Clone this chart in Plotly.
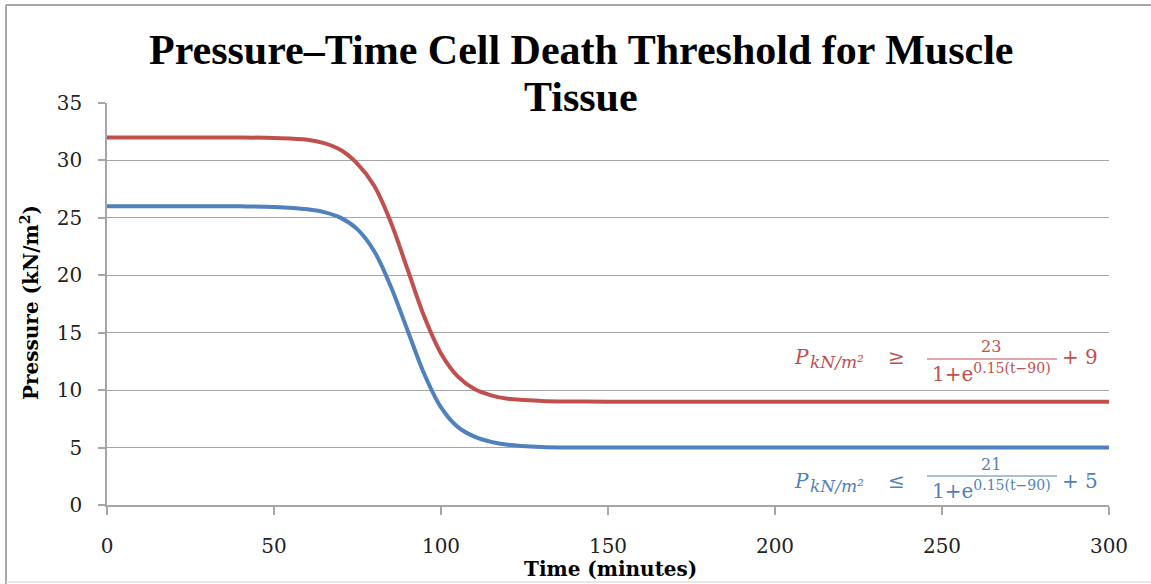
import plotly.graph_objects as go

# Time (minutes) sampled along the curves
time_min = [0, 20, 40, 50, 60, 65, 70, 75, 80, 85, 90, 95, 100, 105, 110,
            115, 120, 130, 140, 150, 200, 250, 300]
# Upper threshold (red)
upper_kpa = [32.0, 32.0, 32.0, 31.95, 31.8, 31.5, 30.9, 29.7, 27.8, 24.6, 20.5,
             16.4, 13.2, 11.2, 10.1, 9.55, 9.25, 9.06, 9.01, 9.0, 9.0, 9.0, 9.0]
# Lower threshold (blue)
lower_kpa = [26.0, 26.0, 26.0, 25.95, 25.75, 25.5, 25.0, 24.0, 22.1, 19.0, 15.2,
             11.4, 8.5, 6.8, 5.95, 5.5, 5.25, 5.06, 5.01, 5.0, 5.0, 5.0, 5.0]

x_ticks = [0, 50, 100, 150, 200, 250, 300]
y_ticks = [0, 5, 10, 15, 20, 25, 30, 35]

RED = "#C0504D"
BLUE = "#4F81BD"
GRID = "#A6A6A6"
SERIF = "Liberation Serif, DejaVu Serif, serif"
DSERIF = "DejaVu Serif, Liberation Serif, serif"

W, H = 1151, 584
L, R, T, B = 107, 42, 103, 79
PW, PH = W - L - R, H - T - B


def px(x):
    return (x - L) / PW


def py(y):
    return (H - B - y) / PH


fig = go.Figure()
fig.add_trace(go.Scatter(x=time_min, y=upper_kpa, mode="lines", line_shape="spline",
                         line=dict(color=RED, width=4), showlegend=False))
fig.add_trace(go.Scatter(x=time_min, y=lower_kpa, mode="lines", line_shape="spline",
                         line=dict(color=BLUE, width=4), showlegend=False))

fig.update_layout(
    width=W, height=H,
    margin=dict(l=L, r=R, t=T, b=B),
    paper_bgcolor="white", plot_bgcolor="white",
    xaxis=dict(range=[0, 300], tickvals=x_ticks, showgrid=False, zeroline=False,
               showline=True, linecolor=GRID, linewidth=1.5,
               ticks="outside", ticklen=8, tickcolor=GRID, tickwidth=1.5,
               ticklabelstandoff=14,
               tickfont=dict(family=DSERIF, size=20, color="#222")),
    yaxis=dict(range=[0, 35], tickvals=y_ticks, showgrid=True, gridcolor=GRID,
               gridwidth=1.3, zeroline=False,
               showline=True, linecolor=GRID, linewidth=1.5,
               ticks="outside", ticklen=7, tickcolor=GRID, tickwidth=1.5,
               ticklabelstandoff=12,
               tickfont=dict(family=DSERIF, size=20, color="#222")),
)

# title (two lines)
title_font = dict(family=SERIF, size=42, color="black", weight="bold")
fig.add_annotation(text="Pressure–Time Cell Death Threshold for Muscle",
                   xref="paper", yref="paper", x=px(581), y=py(50),
                   showarrow=False, xanchor="center", yanchor="middle", font=title_font)
fig.add_annotation(text="Tissue", xref="paper", yref="paper", x=px(581), y=py(97),
                   showarrow=False, xanchor="center", yanchor="middle", font=title_font)

# axis titles
ax_font = dict(family=DSERIF, size=20, color="black", weight="bold")
fig.add_annotation(text="Time (minutes)", xref="paper", yref="paper",
                   x=px(610), y=py(569), showarrow=False,
                   xanchor="center", yanchor="middle", font=ax_font)
fig.add_annotation(text="Pressure (kN/m<sup>2</sup>)", xref="paper", yref="paper",
                   x=px(30), y=py(303), showarrow=False,
                   textangle=-90, xanchor="center", yanchor="middle", font=ax_font)


def formula(color, rel, num, const, y_row, y_num, y_bar, y_den):
    f_big = dict(family=DSERIF, size=20, color=color)
    f_sub = dict(family=DSERIF, size=17, color=color)
    f_num = dict(family=DSERIF, size=16, color=color)
    f_den = dict(family=DSERIF, size=20, color=color)
    fig.add_annotation(text="<i>P</i>", x=px(792), y=py(y_row),
                       xref="paper", yref="paper", showarrow=False, xanchor="left",
                       yanchor="middle", font=f_big)
    fig.add_annotation(text="<i>kN/m²</i>", x=px(808), y=py(y_row + 5),
                       xref="paper", yref="paper", showarrow=False, xanchor="left",
                       yanchor="middle", font=f_sub)
    fig.add_annotation(text=rel, x=px(896), y=py(y_row), xref="paper", yref="paper",
                       showarrow=False, xanchor="center", yanchor="middle", font=f_big)
    fig.add_annotation(text=num, x=px(991), y=py(y_num), xref="paper", yref="paper",
                       showarrow=False, xanchor="center", yanchor="middle", font=f_num)
    fig.add_shape(type="line", x0=px(927), x1=px(1057), y0=py(y_bar), y1=py(y_bar),
                  xref="paper", yref="paper", line=dict(color=color, width=1.2))
    fig.add_annotation(text="1+e<sup>0.15(t−90)</sup>", x=px(991), y=py(y_den),
                       xref="paper", yref="paper", showarrow=False, xanchor="center",
                       yanchor="middle", font=f_den)
    fig.add_annotation(text="+ " + const, x=px(1060), y=py(y_row), xref="paper",
                       yref="paper", showarrow=False, xanchor="left",
                       yanchor="middle", font=f_big)


formula(RED, "≥", "23", "9", 357, 346, 359, 373)
formula(BLUE, "≤", "21", "5", 481, 464, 476, 490)

# outer chart border
fig.add_shape(type="line", xref="paper", yref="paper",
              x0=px(6), x1=px(6), y0=py(584), y1=py(5),
              line=dict(color="#A6A6A6", width=2))
fig.add_shape(type="line", xref="paper", yref="paper",
              x0=px(6), x1=px(1151), y0=py(5), y1=py(5),
              line=dict(color="#A6A6A6", width=2))
fig.add_shape(type="line", xref="paper", yref="paper",
              x0=px(6), x1=px(1151), y0=py(582), y1=py(582),
              line=dict(color="#E0E0E0", width=1.5))

fig.write_html("out.html",
               config={"displayModeBar": False},
               post_script="document.body.style.margin='0';"
                           "document.body.style.padding='0';"
                           "document.body.style.overflow='hidden';")
